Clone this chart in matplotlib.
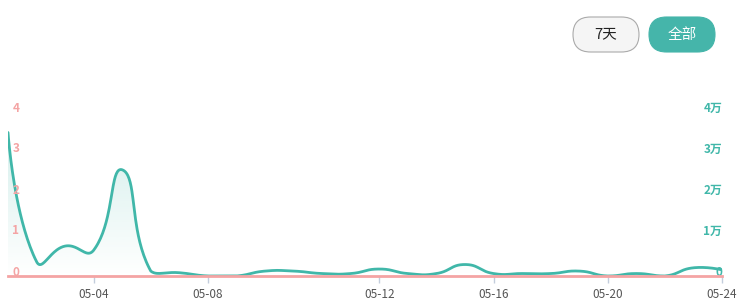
import numpy as np
import matplotlib
matplotlib.use("Agg")
from matplotlib import pyplot as plt, patches, transforms

plt.rcParams["font.family"] = ["Noto Sans CJK SC", "DejaVu Sans"]

# 26 category points, only some of them get a label
tick_idx = [3, 7, 13, 17, 21, 25]
tick_labels = ["05-04", "05-08", "05-12", "05-16", "05-20", "05-24"]

# teal series (right axis)
teal_vals = [35000, 3500, 7300, 6300, 25900, 1200, 800, 0, 0, 1200, 1200, 600, 600,
             1700, 600, 600, 2800, 600, 600, 600, 1200, 0, 600, 0, 2000, 1500]
# pink series (left axis)
pink_vals = [0] * 26
left_ticks = [0, 1, 2, 3, 4]
right_ticks = [0, 10000, 20000, 30000, 40000]

TEAL = "#40b7a9"
PINK = "#f4a4a4"
W, H = 738, 305
X0, X1, YB, YT = 8, 722, 276, 112

fig = plt.figure(figsize=(W / 100, H / 100), dpi=100)
ax = fig.add_axes([X0 / W, (H - YB) / H, (X1 - X0) / W, (YB - YT) / H])
ax2 = ax.twinx()

n = len(teal_vals)
xs = np.arange(n)


def smooth(x, y, kx, ky, s=0.5, steps=40):
    # bezier smoothing in pixel space, control points kept inside the data box
    p = np.column_stack([np.asarray(x, float) * kx, np.asarray(y, float) * ky])
    lo, hi = p.min(axis=0), p.max(axis=0)
    m = len(p)
    c_in = [p[0].copy()]   # control point before each point
    c_out = []             # control point after each point
    for i in range(m):
        if i == 0:
            c_out.append(p[0].copy())
            continue
        if i == m - 1:
            c_in.append(p[-1].copy())
            break
        v = p[i + 1] - p[i - 1]
        l0 = np.hypot(*(p[i] - p[i - 1]))
        l1 = np.hypot(*(p[i + 1] - p[i]))
        r = l1 / (l0 + l1) if l0 + l1 else 0.5
        c_in.append(np.clip(p[i] - v * s * (1 - r), lo, hi))
        c_out.append(np.clip(p[i] + v * s * r, lo, hi))
    t = np.linspace(0, 1, steps, endpoint=False)[:, None]
    segs = []
    for i in range(m - 1):
        b = ((1 - t) ** 3 * p[i] + 3 * (1 - t) ** 2 * t * c_out[i]
             + 3 * (1 - t) * t**2 * c_in[i + 1] + t**3 * p[i + 1])
        segs.append(b)
    segs.append(p[-1:])
    out = np.concatenate(segs)
    return out[:, 0] / kx, out[:, 1] / ky


sx, sy = smooth(xs, teal_vals, (X1 - X0) / (n - 1), (YB - YT) / 40000)

for a in (ax, ax2):
    a.set_xlim(0, n - 1)
    for s in a.spines.values():
        s.set_visible(False)
    a.set_yticks([])
ax.set_ylim(0, 4)
ax2.set_ylim(0, 40000)

# gradient area under teal line
verts = np.column_stack([np.r_[sx, sx[-1], sx[0]], np.r_[sy, 0, 0]])
poly = patches.Polygon(verts, closed=True, facecolor="none", edgecolor="none",
                       transform=ax2.transData)
ax2.add_patch(poly)
grad = np.zeros((100, 1, 4))
grad[:, 0, :3] = matplotlib.colors.to_rgb(TEAL)
grad[:, 0, 3] = np.linspace(0.22, 0.0, 100)
img = ax2.imshow(grad, extent=[0, n - 1, 0, max(teal_vals)], aspect="auto",
                 origin="upper", zorder=1)
img.set_clip_path(poly)
ax2.set_xlim(0, n - 1)
ax2.set_ylim(0, 40000)

ax.plot(xs, pink_vals, color=PINK, lw=2, zorder=3, clip_on=False)
ax2.plot(sx, sy, color=TEAL, lw=2, zorder=2, solid_capstyle="round")
ax.set_zorder(ax2.get_zorder() + 1)
ax.patch.set_visible(False)

# x ticks
ax.set_xticks(tick_idx)
ax.set_xticklabels(tick_labels, fontsize=8.5, color="#555555")
ax.tick_params(axis="x", length=5, width=1, color="#c3cddc", pad=4)

# axis labels drawn inside the plot
up = transforms.ScaledTranslation(0, 4 / 100, fig.dpi_scale_trans)
ltr = transforms.blended_transform_factory(ax.transAxes, ax.transData) + up
for v in left_ticks:
    ax.text(0.006, v, str(v), transform=ltr, ha="left", va="center",
            fontsize=8.5, fontweight="bold", color=PINK)
rtr = transforms.blended_transform_factory(ax2.transAxes, ax2.transData) + up
for v in right_ticks:
    lab = "0" if v == 0 else f"{v // 10000}万"
    ax2.text(1.0, v, lab, transform=rtr, ha="right", va="center",
             fontsize=8.5, fontweight="bold", color=TEAL)


# buttons top right
def pill(x0, x1, ytop, ybot, fc, ec, text, tc):
    w = (x1 - x0) / 100
    h = (ybot - ytop) / 100
    b = patches.FancyBboxPatch((x0 / 100, (H - ybot) / 100), w, h,
                               boxstyle=f"round,pad=0,rounding_size={h / 2}",
                               transform=fig.dpi_scale_trans, facecolor=fc,
                               edgecolor=ec, lw=0.8)
    fig.add_artist(b)
    fig.text((x0 + x1) / 2 / W, (H - (ytop + ybot) / 2) / H, text, ha="center",
             va="center", fontsize=10.5, color=tc)


pill(573, 639, 17, 52, "#f5f5f5", "#aaaaaa", "7天", "#222222")
pill(649, 715, 17, 52, "#45b5aa", "#45b5aa", "全部", "white")

fig.savefig("out.png", dpi=100)
